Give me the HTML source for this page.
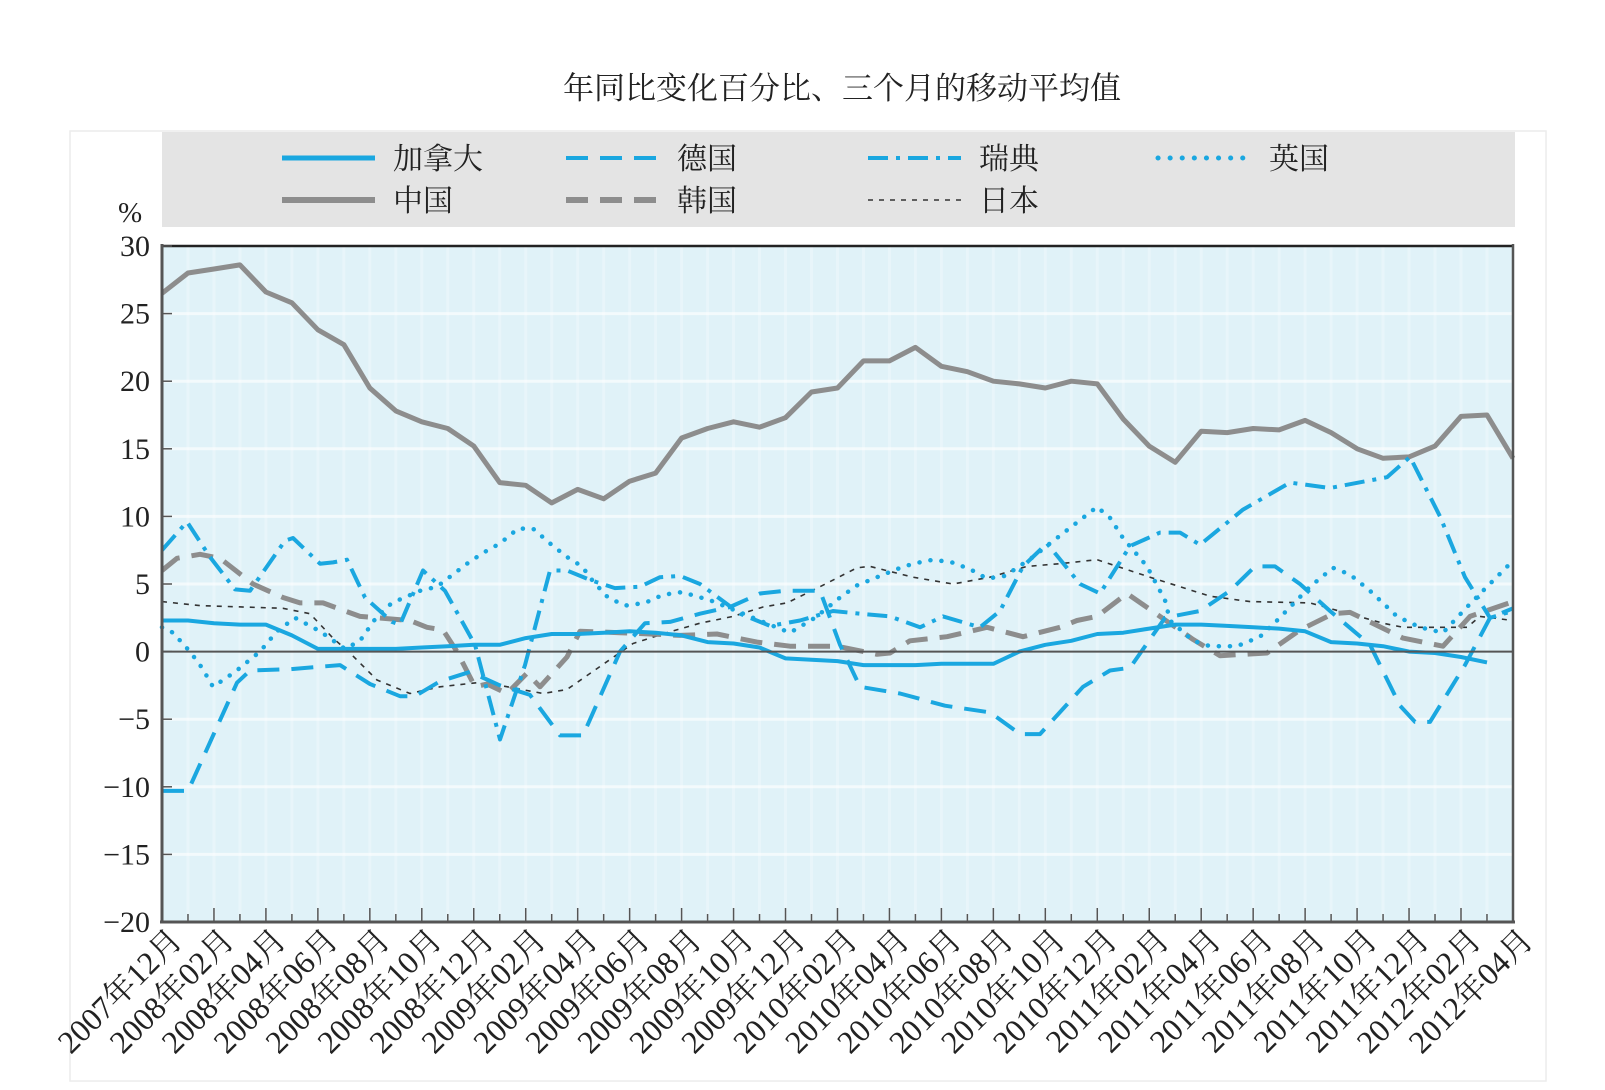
<!DOCTYPE html>
<html><head><meta charset="utf-8">
<style>
html,body{margin:0;padding:0;background:#fff;}
svg{display:block;}
text{font-family:"Liberation Serif","Noto Serif CJK SC","Noto Sans CJK SC",serif;fill:#222;}
</style></head>
<body>
<svg id="c" width="1605" height="1090" xmlns="http://www.w3.org/2000/svg">
<rect x="70" y="131" width="1476" height="950" fill="#fff" stroke="#ececec" stroke-width="1.5"/>
<text x="842" y="99" font-size="31" text-anchor="middle">年同比变化百分比、三个月的移动平均值</text>
<rect x="162" y="132" width="1353" height="95" fill="#e4e4e4"/>
<g id="leg"></g>
<text x="118" y="222" font-size="29">%</text>
<rect x="162" y="246" width="1351" height="676" fill="#e0f2f8"/>
<g id="grid"></g>
<g id="series"></g>
<line x1="162" y1="651.6" x2="1513" y2="651.6" stroke="#555" stroke-width="2"/>
<line x1="162" y1="246" x2="1513" y2="246" stroke="#222" stroke-width="2.5"/>
<line x1="162" y1="244" x2="162" y2="923" stroke="#555" stroke-width="3"/>
<line x1="160" y1="922" x2="1515" y2="922" stroke="#555" stroke-width="3"/>
<line x1="1513" y1="244" x2="1513" y2="923" stroke="#555" stroke-width="2.5"/>
<g id="ticks"></g>
</svg>
<script>
const NS="http://www.w3.org/2000/svg";
function el(p,t,a,txt){const e=document.createElementNS(NS,t);for(const k in a)e.setAttribute(k,a[k]);if(txt!==undefined)e.textContent=txt;p.appendChild(e);return e;}
const Y=v=>651.6-13.52*v, XI=i=>162+25.98*i;
const grid=document.getElementById('grid'),ticks=document.getElementById('ticks'),ser=document.getElementById('series'),leg=document.getElementById('leg');
for(let i=1;i<52;i++) el(grid,'line',{x1:XI(i),y1:247,x2:XI(i),y2:921,stroke:'#fff','stroke-opacity':0.25,'stroke-width':3});
for(let v=-15;v<=25;v+=5) if(v!==0) el(grid,'line',{x1:163,y1:Y(v),x2:1512,y2:Y(v),stroke:'#fff','stroke-opacity':0.6,'stroke-width':3});
for(let v=-20;v<=30;v+=5){
  el(ticks,'text',{x:150,y:Y(v)+10,'font-size':30,'text-anchor':'end'},(v<0?'\u2212':'')+Math.abs(v));
  el(ticks,'line',{x1:163,y1:Y(v),x2:172,y2:Y(v),stroke:'#555','stroke-width':1.5});
}
const labs=[];
let y=2007,m=12;
for(let k=0;k<27;k++){labs.push(y+'年'+String(m).padStart(2,'0')+'月');m+=2;if(m>12){m-=12;y++;}}
for(let i=0;i<=52;i++){
  el(ticks,'line',{x1:XI(i),y1:922,x2:XI(i),y2:i%2?914:908,stroke:'#555','stroke-width':1.5});
}
labs.forEach((t,k)=>{const x=XI(2*k)+22,yy=942;
  el(ticks,'text',{x:x,y:yy,'font-size':32,'text-anchor':'end',transform:`rotate(-45 ${x} ${yy})`},t);});
const B='#1aa7e0',G='#8d8d8d';
function poly(pts,st){el(ser,'polyline',Object.assign({points:pts.map(p=>p[0].toFixed(1)+','+Y(p[1]).toFixed(1)).join(' '),fill:'none','stroke-linejoin':'round'},st));}
const idx=a=>a.map((v,i)=>[XI(i),v]);
const china=[26.5,28,28.3,28.6,26.6,25.8,23.8,22.7,19.5,17.8,17,16.5,15.2,12.5,12.3,11,12,11.3,12.6,13.2,15.8,16.5,17,16.6,17.3,19.2,19.5,21.5,21.5,22.5,21.1,20.7,20,19.8,19.5,20,19.8,17.2,15.2,14,16.3,16.2,16.5,16.4,17.1,16.2,15,14.3,14.4,15.2,17.4,17.5,14.3];
const canada=[2.3,2.3,2.1,2,2,1.2,0.2,0.2,0.2,0.2,0.3,0.4,0.5,0.5,1.0,1.3,1.3,1.4,1.5,1.4,1.2,0.7,0.6,0.3,-0.5,-0.6,-0.7,-1,-1,-1,-0.9,-0.9,-0.9,0,0.5,0.8,1.3,1.4,1.7,2,2,1.9,1.8,1.7,1.5,0.7,0.6,0.4,0,-0.1,-0.4,-0.8];
const japan=[[162,3.7],[200,3.4],[283,3.2],[310,2.8],[333,1],[350,-0.1],[377,-2.1],[410,-3.1],[440,-2.6],[477,-2.3],[500,-2.5],[543,-3.1],[567,-2.8],[600,-1.1],[633,0.6],[667,1.4],[700,2.1],[733,2.6],[763,3.3],[787,3.6],[820,4.8],[857,6.2],[870,6.3],[913,5.5],[953,5],[990,5.5],[1027,6.3],[1060,6.5],[1097,6.8],[1150,5.5],[1210,4.1],[1250,3.7],[1310,3.6],[1383,2.1],[1403,1.8],[1467,1.8],[1480,2.6],[1513,2.3]];
const korea=[[162,6],[177,6.9],[200,7.2],[220,6.9],[253,5],[283,4],[300,3.6],[323,3.6],[360,2.6],[410,2.3],[427,1.8],[443,1.6],[457,0],[475,-2.6],[487,-2.4],[507,-3.1],[527,-1.6],[540,-2.6],[567,-0.4],[580,1.5],[620,1.4],[680,1.2],[717,1.3],[757,0.7],[790,0.4],[837,0.4],[877,-0.2],[890,-0.1],[910,0.8],[947,1.1],[987,1.8],[1023,1.1],[1060,1.8],[1077,2.3],[1097,2.6],[1127,4.3],[1160,2.6],[1193,0.9],[1220,-0.3],[1267,-0.1],[1300,1.6],[1333,2.8],[1350,2.9],[1367,2.3],[1403,1],[1443,0.4],[1470,2.6],[1513,3.7]];
const germany=[[162,-10.3],[188,-10.3],[237,-2.3],[250,-1.4],[290,-1.3],[340,-1],[370,-2.4],[400,-3.3],[415,-3.3],[440,-2.2],[470,-1.5],[500,-2.5],[530,-3.2],[560,-6.2],[583,-6.2],[620,0],[645,2.1],[670,2.2],[700,2.8],[730,3.3],[760,4.3],[785,4.5],[820,4.5],[840,0.5],[860,-2.6],[900,-3.1],[945,-4],[990,-4.5],[1020,-6.1],[1040,-6.1],[1083,-2.6],[1110,-1.4],[1130,-1.2],[1165,2.5],[1200,3],[1230,4.5],[1255,6.3],[1275,6.3],[1300,5],[1330,3],[1370,0.5],[1400,-4],[1415,-5.2],[1430,-5.2],[1465,-1],[1490,2.5],[1513,3.2]];
const sweden=[[162,7.5],[187,9.6],[210,7],[235,4.6],[250,4.5],[285,8.2],[293,8.4],[320,6.5],[333,6.6],[347,6.8],[365,4],[392,2.2],[400,2],[423,6],[445,4.5],[475,0.5],[500,-6.5],[525,-1],[550,6],[567,6],[590,5.3],[615,4.7],[640,4.8],[660,5.5],[680,5.6],[700,5],[740,2.8],[770,1.9],[800,2.3],[833,3],[860,2.8],[890,2.6],[920,1.8],[943,2.6],[980,1.8],[1000,3],[1023,6.3],[1047,8],[1080,5],[1100,4.3],[1130,7.8],[1160,8.8],[1180,8.8],[1200,7.9],[1243,10.5],[1290,12.5],[1330,12.1],[1387,12.9],[1410,14.4],[1440,10],[1465,5.5],[1490,2.5],[1513,3]];
const uk=[[162,1.8],[173,1.4],[190,0],[202,-1.2],[213,-2.6],[235,-1.5],[260,0],[277,1.5],[295,2.5],[320,1.5],[345,0.2],[360,0.8],[377,2.6],[392,3.6],[420,4.5],[437,4.8],[467,6.5],[483,7.3],[500,8],[518,9.1],[533,9.1],[550,8],[567,7],[582,6.3],[593,5.2],[608,4],[625,3.4],[645,3.6],[663,4.2],[682,4.4],[710,3.8],[740,2.9],[763,2.2],[790,1.4],[815,2.5],[840,4],[857,4.9],[877,5.5],[897,6.1],[913,6.5],[933,6.8],[952,6.6],[970,6.1],[987,5.4],[1005,5.6],[1033,7],[1050,8],[1083,9.9],[1097,10.7],[1110,9.9],[1123,8.4],[1147,6.3],[1165,3.8],[1170,2.3],[1193,0.8],[1210,0.4],[1237,0.4],[1260,1.1],[1277,2.3],[1310,4.8],[1333,6.2],[1350,5.7],[1370,4.5],[1397,2.6],[1420,1.8],[1443,1.4],[1467,3.3],[1483,4.5],[1510,6.5]];
poly(idx(china),{stroke:G,'stroke-width':5});
poly(japan,{stroke:'#333','stroke-width':1.6,'stroke-dasharray':'5 6'});
poly(korea,{stroke:G,'stroke-width':5,'stroke-dasharray':'22 12'});
poly(germany,{stroke:B,'stroke-width':4,'stroke-dasharray':'22 12'});
poly(sweden,{stroke:B,'stroke-width':4,'stroke-dasharray':'20 8 4 8'});
poly(uk,{stroke:B,'stroke-width':4.5,'stroke-dasharray':'0.1 11','stroke-linecap':'round'});
poly(idx(canada),{stroke:B,'stroke-width':4});
const L=[[282,158,'加拿大',{stroke:B,'stroke-width':5}],[566,158,'德国',{stroke:B,'stroke-width':4,'stroke-dasharray':'22 12'}],[868,158,'瑞典',{stroke:B,'stroke-width':4,'stroke-dasharray':'20 8 4 8'}],[1158,158,'英国',{stroke:B,'stroke-width':5,'stroke-dasharray':'0.1 12','stroke-linecap':'round'}],
[282,200,'中国',{stroke:G,'stroke-width':6}],[566,200,'韩国',{stroke:G,'stroke-width':6,'stroke-dasharray':'22 12'}],[868,200,'日本',{stroke:'#333','stroke-width':1.6,'stroke-dasharray':'5 6'}]];
L.forEach(([x,y,t,st])=>{el(leg,'line',Object.assign({x1:x,y1:y,x2:x+93,y2:y},st));el(leg,'text',{x:x+111,y:y+11,'font-size':30,fill:'#444'},t);});
</script>
</body></html>
